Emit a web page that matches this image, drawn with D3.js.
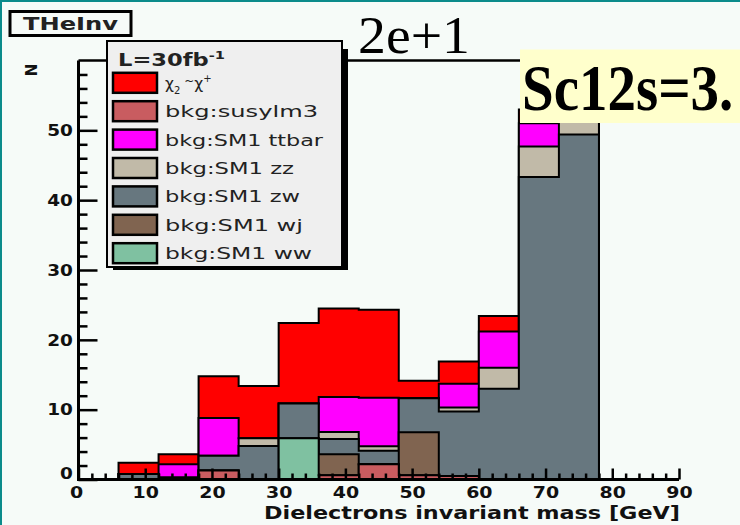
<!DOCTYPE html>
<html>
<head>
<meta charset="utf-8">
<script src="https://cdn.jsdelivr.net/npm/d3@7/dist/d3.min.js"></script>
<style>
  html, body { margin: 0; padding: 0; background: #f6fbf8; }
  svg { display: block; }
</style>
</head>
<body>
<svg id="chart" width="740" height="525"></svg>
<script>
// ---- data -------------------------------------------------------------
// histogram bin edges, dielectron invariant mass [GeV]
const binEdges = [0, 6, 12, 18, 24, 30, 36, 42, 48, 54, 60, 66, 72, 78, 84, 90];

// events per bin for each sample (L = 30 fb^-1), stacked bottom to top
const susylm3 = [0, 0,   0,   1.3, 0,   0,    0.6,  2.2,  0.6,  0.5,  0,    0,    0,    0, 0];
const smWW    = [0, 0,   0,   0,   0,   5.9,  0,    0,    0,    0,    0,    0,    0,    0, 0];
const smWJ    = [0, 0,   0,   0,   0,   0,    3.0,  0,    6.15, 0,    0,    0,    0,    0, 0];
const smZW    = [0, 0.8, 0.3, 2.1, 4.8, 5.0,  2.2,  1.9,  4.9,  9.25, 13.0, 43.3, 49.4, 0, 0];
const smZZ    = [0, 0,   0,   0,   1.1, 0,    1.0,  0.65, 0,    0.55, 3.0,  4.4,  2.1,  0, 0];
const smTTbar = [0, 0,   1.9, 5.4, 0,   0,    5.0,  6.95, 0,    3.4,  5.2,  3.3,  0,    0, 0];
const chiChi  = [0, 1.6, 1.4, 6.0, 7.5, 11.5, 12.7, 12.6, 2.5,  3.2,  2.2,  2.0,  0,    0, 0];

const stackKeys   = ["susylm3", "ww", "wj", "zw", "zz", "ttbar", "chi"];
const stackValues = [susylm3, smWW, smWJ, smZW, smZZ, smTTbar, chiChi];
const legendKeys  = ["chi", "susylm3", "ttbar", "zz", "zw", "wj", "ww"];
const legendNames = ["", "bkg:susylm3", "bkg:SM1 ttbar", "bkg:SM1 zz", "bkg:SM1 zw", "bkg:SM1 wj", "bkg:SM1 ww"];

// axis ticks
const xMajorTicks = [0, 10, 20, 30, 40, 50, 60, 70, 80, 90];
const xMinorTicks = [2, 4, 6, 8, 12, 14, 16, 18, 22, 24, 26, 28, 32, 34, 36, 38, 42, 44, 46, 48,
                     52, 54, 56, 58, 62, 64, 66, 68, 72, 74, 76, 78, 82, 84, 86, 88];
const yMajorTicks = [0, 10, 20, 30, 40, 50];
const yMinorTicks = [2, 4, 6, 8, 12, 14, 16, 18, 22, 24, 26, 28, 32, 34, 36, 38, 42, 44, 46, 48,
                     52, 54, 56, 58];

// ---- styling ------------------------------------------------------------
const fillColor = {
  chi: "#ff0000", susylm3: "#c95c60", ttbar: "#ff00ff", zz: "#c1baa8",
  zw: "#67777f", wj: "#806450", ww: "#7fc1a1"
};
const bg = "#f6fbf8";
const sans = "'DejaVu Sans', Verdana, sans-serif";
const serif = "'Liberation Serif', 'Times New Roman', serif";

const svg = d3.select("#chart");
svg.append("rect").attr("width", 740).attr("height", 525).attr("fill", bg);
// pad highlight border
svg.append("path").attr("d", "M1,525V1H740")
  .attr("fill", "none").attr("stroke", "#0b8b8b").attr("stroke-width", 2);

const x = d3.scaleLinear().domain([0, 90]).range([78.5, 679]);
const y = d3.scaleLinear().domain([0, 60]).range([479.5, 60.5]);

// frame top edge
svg.append("line")
  .attr("x1", x(0)).attr("x2", x(90)).attr("y1", y(60)).attr("y2", y(60))
  .attr("stroke", "#000").attr("stroke-width", 2.5);

// ---- stacked histogram ---------------------------------------------------
const rows = binEdges.slice(0, -1).map((lo, i) => {
  const r = { lo };
  stackKeys.forEach((k, j) => { r[k] = stackValues[j][i]; });
  return r;
});
const layers = d3.stack().keys(stackKeys)(rows);

const stepLine = d3.line()
  .x(d => x(d[0])).y(d => y(d[1]))
  .curve(d3.curveStepAfter);

function histPoints(layer) {
  const last = binEdges[binEdges.length - 1];
  const pts = [[binEdges[0], 0]];
  layer.forEach((d, i) => pts.push([binEdges[i], d[1]]));
  pts.push([last, layer[layer.length - 1][1]]);
  pts.push([last, 0]);
  return pts;
}

svg.append("clipPath").attr("id", "frame")
  .append("rect").attr("x", x(0)).attr("y", y(60))
  .attr("width", x(90) - x(0)).attr("height", y(0) - y(60));

// each cumulative histogram is painted from the top of the stack downwards
svg.append("g").attr("clip-path", "url(#frame)")
  .selectAll("path")
  .data(layers.slice().reverse())
  .join("path")
  .attr("d", l => stepLine(histPoints(l)) + "Z")
  .attr("fill", l => fillColor[l.key])
  .attr("stroke", "#000")
  .attr("stroke-width", 2)
  .attr("stroke-linejoin", "miter");

// ---- axes ----------------------------------------------------------------
function styleAxis(g, fontSize) {
  g.select(".domain").remove();
  g.selectAll(".tick line").attr("stroke", "#000").attr("stroke-width", 2.5);
  g.selectAll(".tick text")
    .attr("fill", "#111")
    .attr("font-family", sans)
    .attr("font-weight", "bold")
    .attr("font-size", fontSize);
}

const gxMinor = svg.append("g").attr("transform", `translate(0,${y(0)})`)
  .call(d3.axisBottom(x).tickValues(xMinorTicks).tickSize(-6).tickFormat(""));
styleAxis(gxMinor, 16);
const gx = svg.append("g").attr("transform", `translate(0,${y(0)})`)
  .call(d3.axisBottom(x).tickValues(xMajorTicks).tickSize(-11).tickPadding(7).tickFormat(d3.format("d")));
styleAxis(gx, 16.5);
gx.selectAll(".tick text").attr("transform", "scale(1.15,1)");
gx.selectAll(".tick").filter(d => d === 0).select("text").attr("x", -2);

const gyMinor = svg.append("g").attr("transform", `translate(${x(0)},0)`)
  .call(d3.axisLeft(y).tickValues(yMinorTicks).tickSize(-9).tickFormat(""));
styleAxis(gyMinor, 16);
const gy = svg.append("g").attr("transform", `translate(${x(0)},0)`)
  .call(d3.axisLeft(y).tickValues(yMajorTicks).tickSize(-19).tickPadding(5).tickFormat(d3.format("d")));
styleAxis(gy, 16.5);
gy.selectAll(".tick text").attr("transform", "scale(1.12,1)");
gy.selectAll(".tick").filter(d => d === 0).select("text").attr("dy", "-0.05em");

// axis lines
svg.append("line").attr("x1", x(0)).attr("x2", x(90)).attr("y1", y(0)).attr("y2", y(0))
  .attr("stroke", "#000").attr("stroke-width", 3);
svg.append("line").attr("x1", x(0)).attr("x2", x(0)).attr("y1", y(60)).attr("y2", y(0) + 1.5)
  .attr("stroke", "#000").attr("stroke-width", 3);

// axis titles
svg.append("text")
  .attr("x", 680).attr("y", 519)
  .attr("text-anchor", "end")
  .attr("font-family", sans).attr("font-size", 18).attr("font-weight", "bold")
  .attr("fill", "#111")
  .attr("textLength", 416).attr("lengthAdjust", "spacingAndGlyphs")
  .text("Dielectrons invariant mass [GeV]");

svg.append("text")
  .attr("transform", "translate(37,70) rotate(-90)")
  .attr("text-anchor", "middle")
  .attr("font-family", sans).attr("font-size", 15).attr("font-weight", "bold")
  .attr("fill", "#111")
  .text("N");

// ---- legend ----------------------------------------------------------------
const leg = svg.append("g");
leg.append("rect").attr("x", 113).attr("y", 49).attr("width", 235).attr("height", 221).attr("fill", "#000");
leg.append("rect").attr("x", 107).attr("y", 41).attr("width", 235).attr("height", 226)
  .attr("fill", "#efefef").attr("stroke", "#000").attr("stroke-width", 2);

const header = leg.append("text")
  .attr("x", 118).attr("y", 66)
  .attr("font-family", sans).attr("font-size", 17).attr("font-weight", "bold")
  .attr("fill", "#222")
  .attr("textLength", 107).attr("lengthAdjust", "spacingAndGlyphs");
header.append("tspan").text("L=30fb");
header.append("tspan").attr("dy", -7).attr("font-size", 11).text("-1");

const labelWidths = [63, 153, 158, 129, 135, 138, 147];
legendKeys.forEach((k, i) => {
  const cy = 82.8 + i * 28.4;
  leg.append("rect")
    .attr("x", 113).attr("y", cy - 10).attr("width", 44).attr("height", 20)
    .attr("fill", fillColor[k]).attr("stroke", "#000").attr("stroke-width", 2.5);
  const t = leg.append("text")
    .attr("x", 165).attr("y", cy + 6)
    .attr("font-family", sans).attr("font-size", 15.5)
    .attr("fill", "#222");
  if (k === "chi") {
    t.append("tspan").text("χ");
    t.append("tspan").attr("dy", 5).attr("font-size", 10).text("2");
    t.append("tspan").attr("dy", -9).attr("font-size", 12).text(" ~");
    t.append("tspan").attr("dy", 4).text("χ");
    t.append("tspan").attr("dy", -7).attr("font-size", 10).text("+");
  } else {
    t.attr("textLength", labelWidths[i]).attr("lengthAdjust", "spacingAndGlyphs")
      .text(legendNames[i]);
  }
});

// ---- labels on top ---------------------------------------------------------
// histogram name box
svg.append("rect").attr("x", 10).attr("y", 11.5).attr("width", 121).attr("height", 24)
  .attr("fill", bg).attr("stroke", "#000").attr("stroke-width", 3);
svg.append("text")
  .attr("x", 23).attr("y", 30)
  .attr("font-family", sans).attr("font-size", 18).attr("font-weight", "bold")
  .attr("fill", "#222")
  .attr("textLength", 95).attr("lengthAdjust", "spacingAndGlyphs")
  .text("THeInv");

svg.append("text")
  .attr("x", 358).attr("y", 53)
  .attr("font-family", serif).attr("font-size", 52)
  .attr("fill", "#000")
  .attr("textLength", 112).attr("lengthAdjust", "spacingAndGlyphs")
  .text("2e+1");

svg.append("rect").attr("x", 520).attr("y", 49.5).attr("width", 220).attr("height", 73.5)
  .attr("fill", "#ffffcc");
svg.append("text")
  .attr("transform", "translate(522,110) scale(1,1.15)")
  .attr("font-family", serif).attr("font-size", 57).attr("font-weight", "bold")
  .attr("fill", "#000")
  .text("Sc12s=3.");
</script>
</body>
</html>
